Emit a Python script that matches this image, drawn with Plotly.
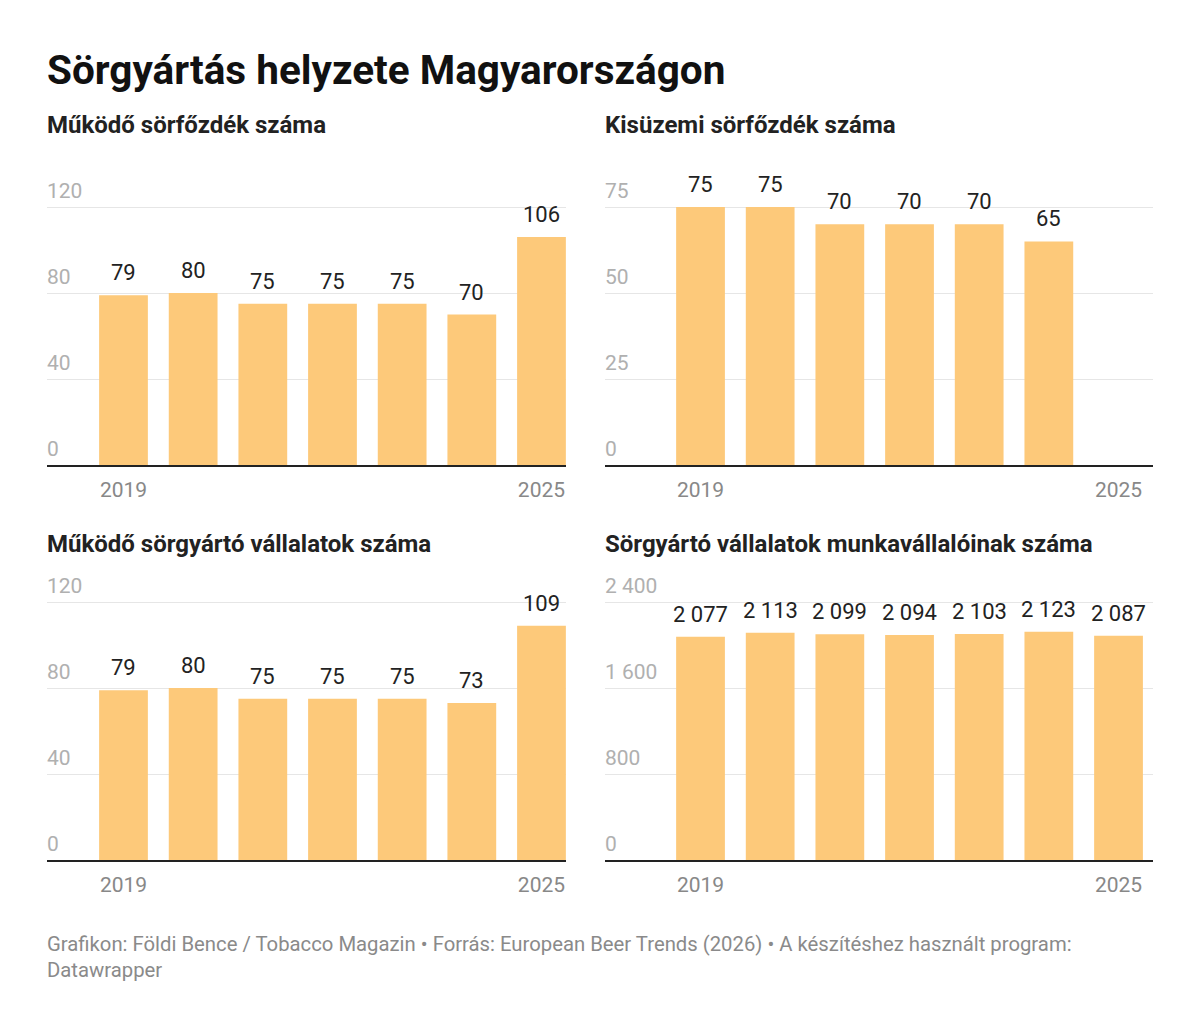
import plotly.graph_objects as go

years = [2019, 2020, 2021, 2022, 2023, 2024, 2025]

mukodo_sorfozdek = [79, 80, 75, 75, 75, 70, 106]
kisuzemi_years = [2019, 2020, 2021, 2022, 2023, 2024]
kisuzemi_sorfozdek = [75, 75, 70, 70, 70, 65]
mukodo_vallalatok = [79, 80, 75, 75, 75, 73, 109]
munkavallalok = [2077, 2113, 2099, 2094, 2103, 2123, 2087]

panel_titles = [
    "Működő sörfőzdék száma",
    "Kisüzemi sörfőzdék száma",
    "Működő sörgyártó vállalatok száma",
    "Sörgyártó vállalatok munkavállalóinak száma",
]

y_ticks = [
    [0, 40, 80, 120],
    [0, 25, 50, 75],
    [0, 40, 80, 120],
    [0, 800, 1600, 2400],
]

BAR = "#fdc97a"
FONT = "Roboto"
W, H = 1200, 1028
OFF = 8  # page body margin


def px_x(v):
    return (v - OFF) / W


def px_y(v):
    return 1 - (v - OFF) / H


def fmt(v):
    return f"{v:,}".replace(",", " ")


fig = go.Figure()

series = [
    (years, mukodo_sorfozdek),
    (kisuzemi_years, kisuzemi_sorfozdek),
    (years, mukodo_vallalatok),
    (years, munkavallalok),
]

annotations = []
for i, (xs, ys) in enumerate(series):
    n = "" if i == 0 else str(i + 1)
    fig.add_trace(go.Bar(
        x=xs, y=ys,
        xaxis="x" + n, yaxis="y" + n,
        width=0.7,
        marker=dict(color=BAR, line=dict(width=0)),
        hoverinfo="skip",
        showlegend=False,
    ))
    # value labels above the bars
    for xv, yv in zip(xs, ys):
        annotations.append(dict(
            text=fmt(yv), x=xv, y=yv, xref="x" + n, yref="y" + n,
            xanchor="center", yanchor="bottom", yshift=8,
            showarrow=False, font=dict(family=FONT, size=22, color="#222222"),
        ))

# panel geometry in pixels (reference coordinates)
cols = [(47, 566, 2017.902, 2025.352), (605, 1153, 2017.629, 2025.495)]
rows = [(207, 465), (602, 860)]
HEAD = 30  # room above the top gridline for its label

layout = {}
for i in range(4):
    r, c = divmod(i, 2)
    x0, x1, xr0, xr1 = cols[c]
    top, bottom = rows[r]
    n = "" if i == 0 else str(i + 1)
    ymax = y_ticks[i][-1] * (bottom - top + HEAD) / (bottom - top)
    layout["xaxis" + n] = dict(
        domain=[px_x(x0), px_x(x1)],
        anchor="y" + n,
        range=[xr0, xr1],
        tickvals=[2019, 2025],
        ticks="",
        ticklabelstandoff=5,
        showgrid=False,
        zeroline=False,
        showline=True,
        linecolor="#222222",
        linewidth=2,
        tickfont=dict(family=FONT, size=21, color="#888888"),
        fixedrange=True,
    )
    layout["yaxis" + n] = dict(
        domain=[px_y(bottom), px_y(top - HEAD)],
        anchor="x" + n,
        range=[0, ymax],
        tickvals=y_ticks[i],
        tickformat=",",
        ticklabelposition="inside top",
        ticklabelshift=-2,
        ticklabelstandoff=-3,
        ticks="",
        showgrid=True,
        gridcolor="#e6e6e6",
        gridwidth=1,
        zeroline=False,
        showline=False,
        tickfont=dict(family=FONT, size=21, color="#b0b0b0"),
        fixedrange=True,
    )

annotations += [
    dict(text="<b>Sörgyártás helyzete Magyarországon</b>", x=px_x(45), y=px_y(70),
         xref="paper", yref="paper", xanchor="left", yanchor="middle",
         showarrow=False, font=dict(family=FONT, size=40.5, color="#111111")),
    dict(text="Grafikon: Földi Bence / Tobacco Magazin • Forrás: European Beer Trends (2026) • "
              "A készítéshez használt program:<br>Datawrapper",
         x=px_x(45), y=px_y(957), xref="paper", yref="paper",
         xanchor="left", yanchor="middle", align="left", showarrow=False,
         font=dict(family=FONT, size=20.3, color="#8a8a8a")),
]
sub_pos = [(45, 125), (603, 125), (45, 544), (603, 544)]
for t, (px, py) in zip(panel_titles, sub_pos):
    annotations.append(dict(
        text="<b>" + t + "</b>", x=px_x(px), y=px_y(py),
        xref="paper", yref="paper", xanchor="left", yanchor="middle",
        showarrow=False, font=dict(family=FONT, size=24, color="#222222"),
    ))

fig.update_layout(
    width=W, height=H,
    margin=dict(l=0, r=0, t=0, b=0),
    paper_bgcolor="white",
    plot_bgcolor="white",
    separators=", ",
    bargap=0.3,
    annotations=annotations,
    **layout,
)

fig.write_html("out.html")
